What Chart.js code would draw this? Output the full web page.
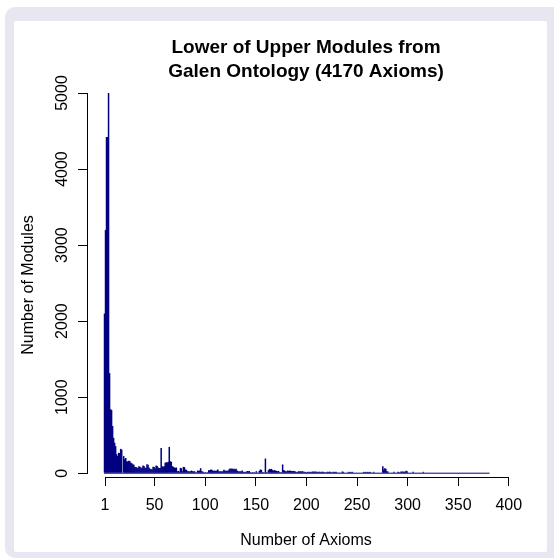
<!DOCTYPE html>
<html lang="en">
  <head>
    <meta charset="UTF-8" />
    <meta name="viewport" content="width=device-width, initial-scale=1.0" />
    <title>Lower of Upper Modules from Galen Ontology</title>
    <script src="https://cdn.jsdelivr.net/npm/chart.js"></script>
    <style>
      html,
      body {
        margin: 0;
        padding: 0;
        width: 554px;
        height: 560px;
        overflow: hidden;
        background: #fff;
      }
      .frame {
        position: absolute;
        left: 5px;
        top: 7px;
        width: 562px;
        height: 551px;
        background: #e7e7f1;
        border-radius: 10px;
      }
      .panel {
        position: absolute;
        left: 14px;
        top: 21px;
        width: 533px;
        height: 531px;
        background: #fff;
        border-radius: 2px;
      }
      canvas {
        position: absolute;
        left: 0;
        top: 0;
      }
    </style>
  </head>
  <body>
    <div class="frame"></div>
    <div class="panel"></div>
    <canvas id="histChart" width="554" height="560"></canvas>

    <script>
      // number of modules per module size (bins of one axiom, 1..381)
      const moduleCounts = [
        2100, 3200, 4420, 4420, 5000, 1316, 842, 830, 620, 465,
        400, 355, 250, 225, 268, 265, 320, 310, 0, 225,
        184, 200, 158, 155, 165, 160, 136, 130, 118, 110,
        83, 80, 75, 70, 90, 85, 75, 70, 100, 95,
        75, 70, 118, 110, 75, 57, 55, 50, 85, 80,
        65, 100, 95, 75, 70, 70, 333, 92, 85, 90,
        136, 145, 140, 150, 346, 158, 150, 92, 85, 75,
        70, 75, 26, 30, 20, 70, 65, 26, 83, 80,
        48, 45, 26, 26, 22, 26, 35, 26, 22, 26,
        13, 10, 35, 30, 35, 66, 26, 22, 13, 10,
        13, 8, 13, 40, 38, 48, 45, 35, 30, 35,
        30, 35, 48, 26, 22, 26, 22, 26, 44, 35,
        30, 35, 30, 48, 61, 58, 61, 55, 57, 52,
        57, 35, 26, 22, 26, 22, 35, 18, 13, 18,
        13, 30, 26, 30, 13, 8, 13, 10, 13, 8,
        26, 5, 5, 30, 48, 44, 13, 13, 10, 193,
        13, 10, 40, 57, 52, 57, 40, 35, 40, 35,
        30, 26, 30, 13, 13, 10, 115, 40, 35, 26,
        22, 35, 30, 35, 30, 30, 26, 30, 26, 18,
        13, 18, 26, 22, 26, 22, 26, 13, 18, 13,
        13, 18, 13, 18, 13, 18, 22, 18, 22, 18,
        18, 13, 18, 18, 13, 18, 18, 13, 13, 10,
        18, 13, 18, 18, 13, 10, 18, 13, 18, 18,
        8, 5, 8, 5, 8, 22, 18, 0, 0, 0,
        0, 18, 13, 18, 13, 18, 0, 0, 0, 0,
        0, 0, 0, 0, 0, 0, 18, 13, 18, 13,
        18, 13, 18, 13, 0, 0, 18, 0, 0, 0,
        0, 0, 0, 0, 0, 92, 48, 66, 60, 26,
        22, 0, 0, 0, 0, 0, 18, 0, 0, 0,
        18, 13, 8, 22, 18, 22, 18, 18, 31, 26,
        0, 0, 0, 0, 0, 18, 0, 0, 0, 0,
        0, 0, 0, 0, 0, 18, 0, 0, 0, 0,
        0, 0, 0, 0, 0, 0, 0, 0, 0, 0,
        0, 0, 0, 0, 0, 0, 0, 0, 0, 0,
        0, 0, 0, 0, 0, 0, 0, 0, 0, 0,
        0, 0, 0, 0, 0, 0, 0, 0, 0, 0,
        0, 0, 0, 0, 0, 0, 0, 0, 0, 0,
        0, 0, 0, 0, 0, 0, 0, 0, 0, 0,
        0,
      ];
      // bin k holds the modules with k axioms
      const axiomCounts = Array.from({ length: moduleCounts.length }, (_, i) => i + 1);

      const xTickValues = [1, 50, 100, 150, 200, 250, 300, 350, 400];
      const yTickValues = [0, 1000, 2000, 3000, 4000, 5000];

      const titleLines = ["Lower of Upper Modules from", "Galen Ontology (4170 Axioms)"];
      const xLabel = "Number of Axioms";
      const yLabel = "Number of Modules";

      const navy = "#000080";

      Chart.defaults.font.family = "'Liberation Sans', Arial, sans-serif";
      Chart.defaults.color = "#000";

      // R draws the axis line only from the first tick to the last one
      const rAxisLines = {
        id: "rAxisLines",
        afterDraw(chart) {
          const { ctx, chartArea, scales } = chart;
          const align = (p) => Math.round(p - 0.5) + 0.5;
          ctx.save();
          ctx.strokeStyle = "#000";
          ctx.lineWidth = 1;
          ctx.lineCap = "square";
          ctx.beginPath();
          const yRow = Math.round(chartArea.bottom) + 0.5;
          ctx.moveTo(align(scales.x.getPixelForValue(xTickValues[0])), yRow);
          ctx.lineTo(align(scales.x.getPixelForValue(xTickValues[xTickValues.length - 1])), yRow);
          const xCol = Math.round(chartArea.left) + 0.5;
          ctx.moveTo(xCol, align(scales.y.getPixelForValue(yTickValues[0])));
          ctx.lineTo(xCol, align(scales.y.getPixelForValue(yTickValues[yTickValues.length - 1])));
          ctx.stroke();
          ctx.restore();
        },
      };

      const ctx = document.getElementById("histChart").getContext("2d");
      const histChart = new Chart(ctx, {
        type: "bar",
        data: {
          datasets: [
            {
              type: "bar",
              data: moduleCounts.map((v, i) => ({ x: axiomCounts[i] - 0.5, y: v })),
              backgroundColor: navy,
              borderWidth: 0,
              barPercentage: 1.5,
              categoryPercentage: 1,
              order: 1,
            },
            {
              // zero-height bins still show their border on the baseline
              type: "line",
              data: [
                { x: axiomCounts[0] - 1, y: 0 },
                { x: axiomCounts[axiomCounts.length - 1], y: 0 },
              ],
              borderColor: navy,
              borderWidth: 1,
              pointRadius: 0,
              order: 0,
            },
          ],
        },
        options: {
          responsive: false,
          animation: false,
          layout: { padding: { top: 0, left: 0, right: 29, bottom: 0 } },
          plugins: {
            legend: { display: false },
            tooltip: { enabled: false },
            title: {
              display: true,
              fullSize: false,
              text: titleLines,
              color: "#000",
              font: { size: 19, weight: "bold", lineHeight: 1.25 },
              padding: { top: 36, bottom: 9.5 },
            },
          },
          scales: {
            x: {
              type: "linear",
              min: -16.8,
              max: 416,
              offset: false,
              afterBuildTicks: (s) => {
                s.ticks = xTickValues.map((v) => ({ value: v }));
              },
              afterFit: (s) => {
                s.height = 83;
              },
              border: { display: false },
              grid: {
                offset: false,
                drawOnChartArea: false,
                drawTicks: true,
                tickLength: 9,
                tickColor: "#000",
                color: "#000",
              },
              ticks: {
                autoSkip: false,
                maxRotation: 0,
                padding: 10,
                color: "#000",
                font: { size: 16 },
                callback: (v) => String(v),
              },
              title: {
                display: true,
                text: xLabel,
                color: "#000",
                font: { size: 16 },
                padding: { top: 0, bottom: 9.4 },
              },
            },
            y: {
              min: -50,
              max: 5000,
              afterBuildTicks: (s) => {
                s.ticks = yTickValues.map((v) => ({ value: v }));
              },
              afterFit: (s) => {
                s.width = 87;
              },
              border: { display: false },
              grid: {
                drawOnChartArea: false,
                drawTicks: true,
                tickLength: 9,
                tickColor: "#000",
                color: "#000",
              },
              ticks: {
                minRotation: 90,
                maxRotation: 90,
                crossAlign: "center",
                padding: -2,
                color: "#000",
                font: { size: 16 },
                callback: (v) => String(v),
              },
              title: {
                display: true,
                text: yLabel,
                color: "#000",
                font: { size: 16 },
                padding: { top: 19.4, bottom: 0 },
              },
            },
          },
        },
        plugins: [rAxisLines],
      });
    </script>
  </body>
</html>
